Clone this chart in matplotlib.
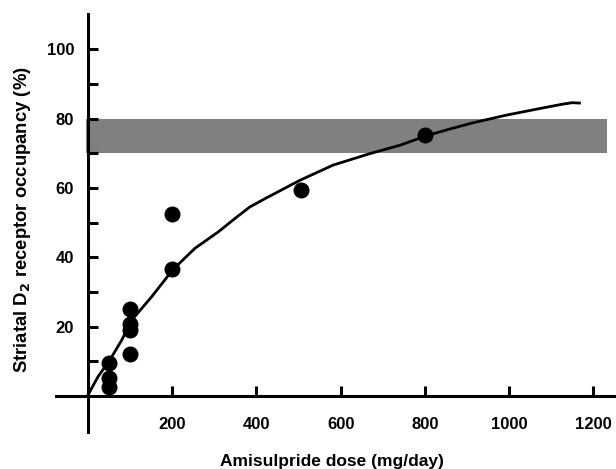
import matplotlib.pyplot as plt

# observed PET data (dose mg/day, striatal D2 occupancy %)
dose = [50, 50, 50, 100, 100, 100, 100, 200, 200, 505, 800]
occupancy = [9.4, 5.3, 2.7, 25.1, 20.9, 19.0, 12.1, 36.6, 52.6, 59.4, 75.4]

# fitted curve
curve_dose = [0, 24, 52, 80, 104, 151, 202, 254, 309, 349, 384, 420, 467,
              503, 582, 669, 740, 807, 859, 914, 993, 1072, 1128, 1150, 1167]
curve_occ = [0.3, 5.6, 10.4, 16.1, 21.9, 28.6, 36.5, 42.6, 47.3, 51.2, 54.5, 56.9, 59.9,
             62.2, 66.6, 69.9, 72.3, 75.2, 77.0, 78.8, 81.0, 82.9, 84.2, 84.6, 84.5]

# therapeutic window band
band_low, band_high = 70, 80
band_x = [-5, 1232]

x_ticks = [200, 400, 600, 800, 1000, 1200]
y_ticks = [20, 40, 60, 80, 100]
y_minor = [10, 30, 50, 70, 90]

plt.rcParams['font.family'] = ['Liberation Sans', 'DejaVu Sans']
plt.rcParams['font.weight'] = 'bold'
plt.rcParams['mathtext.default'] = 'bf'

fig = plt.figure(figsize=(6.16, 4.69), dpi=100)
ax = fig.add_axes([0.0916, 0.0789, 0.9078, 0.8913])

ax.fill_between(band_x, band_low, band_high, color='#808080', linewidth=0, zorder=1)
ax.plot(curve_dose, curve_occ, color='black', linewidth=2.0, zorder=2,
        solid_joinstyle='round')
ax.plot(dose, occupancy, 'o', color='black', markersize=10.5, zorder=3)

ax.set_xlim(-75, 1253)
ax.set_ylim(-10.4, 110.2)

ax.spines['left'].set_position(('data', 0))
ax.spines['bottom'].set_position(('data', 0))
ax.spines['top'].set_visible(False)
ax.spines['right'].set_visible(False)
for s in ['left', 'bottom']:
    ax.spines[s].set_linewidth(2.2)

ax.set_xticks(x_ticks)
ax.set_yticks(y_ticks)
ax.set_yticks(y_minor, minor=True)
ax.tick_params(axis='both', which='both', direction='in', length=7, width=2.2, labelsize=12)
ax.tick_params(axis='x', pad=15)
ax.tick_params(axis='y', pad=10)
for lbl in ax.get_xticklabels() + ax.get_yticklabels():
    lbl.set_fontweight('bold')

fig.text(332 / 616, 1 - 461 / 469, 'Amisulpride dose (mg/day)', ha='center', va='center',
         fontsize=12.5, fontweight='bold')
fig.text(0.036, 1 - 220 / 469, 'Striatal D$_2$ receptor occupancy (%)', rotation=90,
         ha='center', va='center', fontsize=13.3, fontweight='bold')

plt.savefig('out.png', dpi=100)
